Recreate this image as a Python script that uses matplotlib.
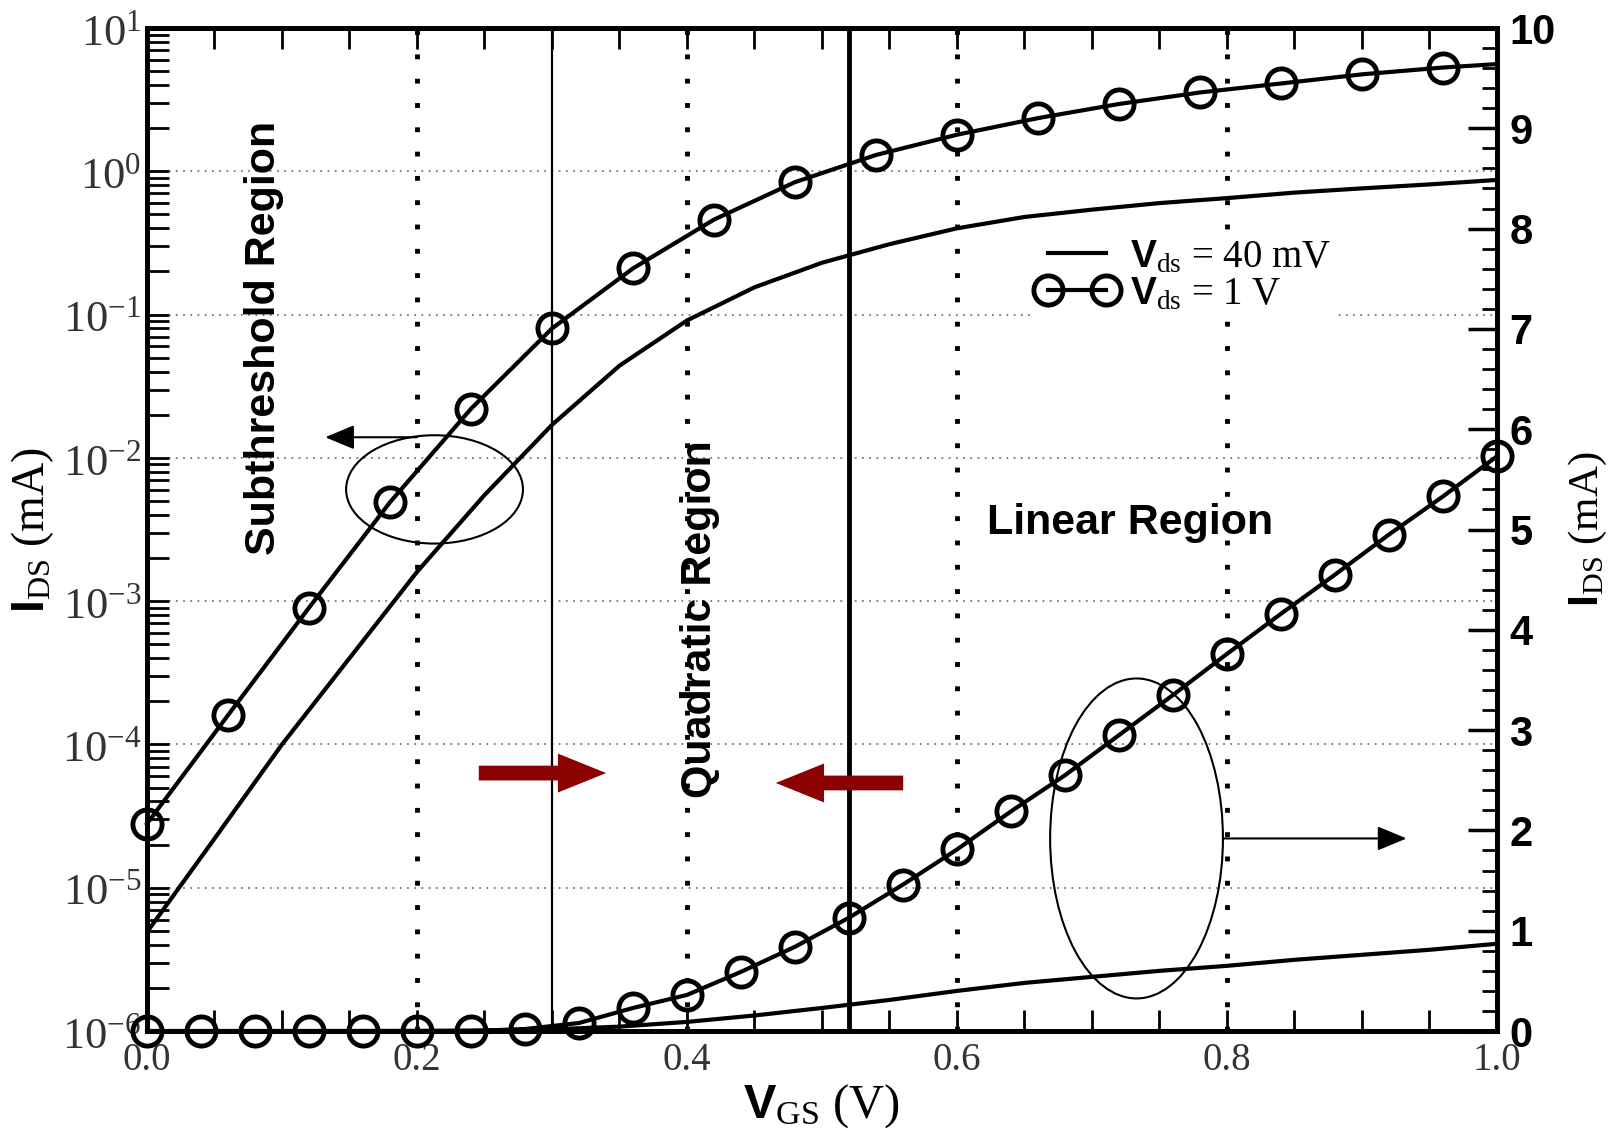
import numpy as np
import matplotlib
matplotlib.use('Agg')
import matplotlib.pyplot as plt
from matplotlib.patches import Ellipse, FancyArrowPatch
from matplotlib.lines import Line2D
from matplotlib.ticker import MultipleLocator, LogLocator, NullFormatter

plt.rcParams['mathtext.fontset'] = 'custom'
plt.rcParams['mathtext.rm'] = 'Liberation Serif'
plt.rcParams['mathtext.it'] = 'Liberation Serif:italic'
plt.rcParams['mathtext.bf'] = 'Liberation Sans:bold'
plt.rcParams['mathtext.sf'] = 'Liberation Sans'

# Vds = 40 mV (same curve on the log and the linear axis)
vgs_40 = [0.0, 0.05, 0.1, 0.15, 0.2, 0.25, 0.3, 0.35, 0.4, 0.45, 0.5,
          0.55, 0.6, 0.65, 0.7, 0.75, 0.8, 0.85, 0.9, 0.95, 1.0]
ids_40 = [4.9e-6, 2.2e-5, 1.0e-4, 4.0e-4, 1.6e-3, 5.5e-3, 1.7e-2, 4.4e-2, 9.1e-2, 0.155, 0.23,
          0.31, 0.40, 0.48, 0.54, 0.60, 0.65, 0.71, 0.76, 0.81, 0.87]

# Vds = 1 V on the log axis
vgs_1v_log = [0.0, 0.06, 0.12, 0.18, 0.24, 0.30, 0.36, 0.42, 0.48, 0.54, 0.60,
              0.66, 0.72, 0.78, 0.84, 0.90, 0.96, 1.0]
ids_1v_log = [2.8e-5, 1.6e-4, 9.0e-4, 4.9e-3, 2.2e-2, 8.0e-2, 0.21, 0.46, 0.84, 1.3, 1.8,
              2.35, 2.95, 3.55, 4.1, 4.75, 5.3, 5.6]

# Vds = 1 V on the linear axis
vgs_1v_lin = [0.0, 0.04, 0.08, 0.12, 0.16, 0.20, 0.24, 0.28, 0.32, 0.36, 0.40, 0.44, 0.48,
              0.52, 0.56, 0.60, 0.64, 0.68, 0.72, 0.76, 0.80, 0.84, 0.88, 0.92, 0.96, 1.0]
ids_1v_lin = [0.0, 0.0, 0.0, 0.0, 0.0, 0.0, 0.0, 0.02, 0.08, 0.23, 0.36, 0.59, 0.84,
              1.13, 1.46, 1.81, 2.19, 2.55, 2.95, 3.35, 3.76, 4.16, 4.55, 4.95, 5.33, 5.73]

region_bounds = [0.3, 0.52]
dotted_v = [0.2, 0.4, 0.6, 0.8]
x_ticks = [0.0, 0.2, 0.4, 0.6, 0.8, 1.0]
x_ticklabels = ['0.0', '0.2', '0.4', '0.6', '0.8', '1.0']
log_exps = [-6, -5, -4, -3, -2, -1, 0, 1]
right_ticks = [0, 1, 2, 3, 4, 5, 6, 7, 8, 9, 10]

fig = plt.figure(figsize=(16.1, 11.34), dpi=100)
ax = fig.add_axes([0.0913, 0.0908, 0.8385, 0.8845])
ax.set_yscale('log')
ax.set_xlim(0, 1)
ax.set_ylim(1e-6, 10)
ax2 = ax.twinx()
ax2.set_ylim(0, 10)

# grid
for e in log_exps[1:-1]:
    ax.axhline(10.0**e, color='#777777', lw=1.3, ls=(0, (1, 3)), zorder=1)
for v in dotted_v:
    ax.axvline(v, color='k', lw=3.5, ls=(0, (1, 4)), zorder=1)
ax.axvline(region_bounds[0], color='k', lw=1.6, zorder=2)
ax.axvline(region_bounds[1], color='k', lw=3.5, zorder=2)

# curves
ax.plot(vgs_40, ids_40, color='k', lw=3, zorder=3)
ax.plot(vgs_1v_log, ids_1v_log, color='k', lw=3, marker='o', ms=21, mfc='none', mew=3.5,
        markevery=list(range(len(vgs_1v_log) - 1)), clip_on=False, zorder=4)
ax2.plot(vgs_40, ids_40, color='k', lw=3, zorder=3)
ax2.plot(vgs_1v_lin, ids_1v_lin, color='k', lw=3, marker='o', ms=21, mfc='none', mew=3.5,
         clip_on=False, zorder=4)

# ticks
ax.set_xticks(x_ticks)
ax.set_xticklabels(x_ticklabels, fontsize=28, family='Liberation Serif', color='#333333')
ax.xaxis.set_minor_locator(MultipleLocator(0.05))
ax.set_yticks([10.0**e for e in log_exps])
ax.set_yticklabels([r'$\mathrm{10^{%d}}$' % e for e in log_exps], fontsize=32, color='#333333')
ax.yaxis.set_minor_locator(LogLocator(base=10, subs=np.arange(2, 10), numticks=20))
ax.yaxis.set_minor_formatter(NullFormatter())
ax.tick_params(axis='x', which='both', direction='in', top=True, length=15, width=2, pad=8)
ax.tick_params(axis='y', which='both', direction='in', right=False, length=16, width=2, pad=4)

ax2.set_yticks(right_ticks)
ax2.set_yticklabels([str(t) for t in right_ticks], fontsize=30, fontweight='bold',
                    family='Liberation Sans')
ax2.yaxis.set_minor_locator(MultipleLocator(0.2))
ax2.tick_params(axis='y', which='major', direction='in', length=21, width=2.5, pad=9)
ax2.tick_params(axis='y', which='minor', direction='in', length=11, width=2)

for a in (ax, ax2):
    for s in a.spines.values():
        s.set_linewidth(3.5)

ax.set_xlabel(r'$\mathbf{V}_{\mathrm{GS}}$ (V)', fontsize=35, family='Liberation Serif',
              labelpad=2)
ax.set_ylabel(r'$\mathbf{I}_{\mathrm{DS}}$ (mA)', fontsize=33, family='Liberation Serif',
              labelpad=4)
ax2.set_ylabel(r'$\mathbf{I}_{\mathrm{DS}}$ (mA)', fontsize=31, family='Liberation Serif',
               rotation=90, labelpad=8)

# region annotations
ax2.text(0.087, 0.691, 'Subthreshold Region', transform=ax2.transAxes, rotation=90,
         fontsize=31, fontweight='bold', family='Liberation Sans', ha='center', va='center')
ax2.text(0.410, 0.411, 'Quadratic Region', transform=ax2.transAxes, rotation=90,
         fontsize=31, fontweight='bold', family='Liberation Sans', ha='center', va='center')
ax2.text(0.728, 0.507, 'Linear Region', transform=ax2.transAxes,
         fontsize=31, fontweight='bold', family='Liberation Sans', ha='center', va='center')

for (x0, x1, y) in [(0.2437, 0.3422, 0.2572), (0.5622, 0.4637, 0.2473)]:
    ax2.add_patch(FancyArrowPatch((x0, y), (x1, y), transform=ax2.transAxes,
                                  arrowstyle='simple,head_length=0.62,head_width=0.5,tail_width=0.19',
                                  mutation_scale=56, color='#8b0000', lw=0, zorder=5))

ax2.add_patch(Ellipse((0.213, 0.540), 0.131, 0.108, transform=ax2.transAxes,
                      fill=False, lw=1.5, color='k'))
ax2.add_patch(Ellipse((0.733, 0.192), 0.128, 0.319, transform=ax2.transAxes,
                      fill=False, lw=1.5, color='k'))
ax2.annotate('', xy=(0.132, 0.592), xytext=(0.200, 0.592), xycoords='axes fraction',
             arrowprops=dict(arrowstyle='-|>,head_length=0.6,head_width=0.25', lw=1.5,
                             color='k', mutation_scale=30, shrinkA=0, shrinkB=0))
ax2.annotate('', xy=(0.933, 0.192), xytext=(0.797, 0.192), xycoords='axes fraction',
             arrowprops=dict(arrowstyle='-|>,head_length=0.6,head_width=0.25', lw=1.5,
                             color='k', mutation_scale=30, shrinkA=0, shrinkB=0))

# legend
handles = [Line2D([], [], color='k', lw=3),
           Line2D([], [], color='k', lw=3, marker='o', ms=21, mfc='none', mew=3.5)]
labels = [r'$\mathbf{V}_{\mathrm{ds}}$ = 40 mV', r'$\mathbf{V}_{\mathrm{ds}}$ = 1 V']
leg = ax2.legend(handles, labels, loc='upper left', bbox_to_anchor=(0.64, 0.815),
                 prop={'family': 'Liberation Serif', 'size': 28}, numpoints=2,
                 handlelength=2.1, handletextpad=0.3, labelspacing=0.0, borderpad=0.15,
                 framealpha=1, fancybox=False)
leg.get_frame().set_edgecolor('none')

fig.savefig('out.png', dpi=100)
